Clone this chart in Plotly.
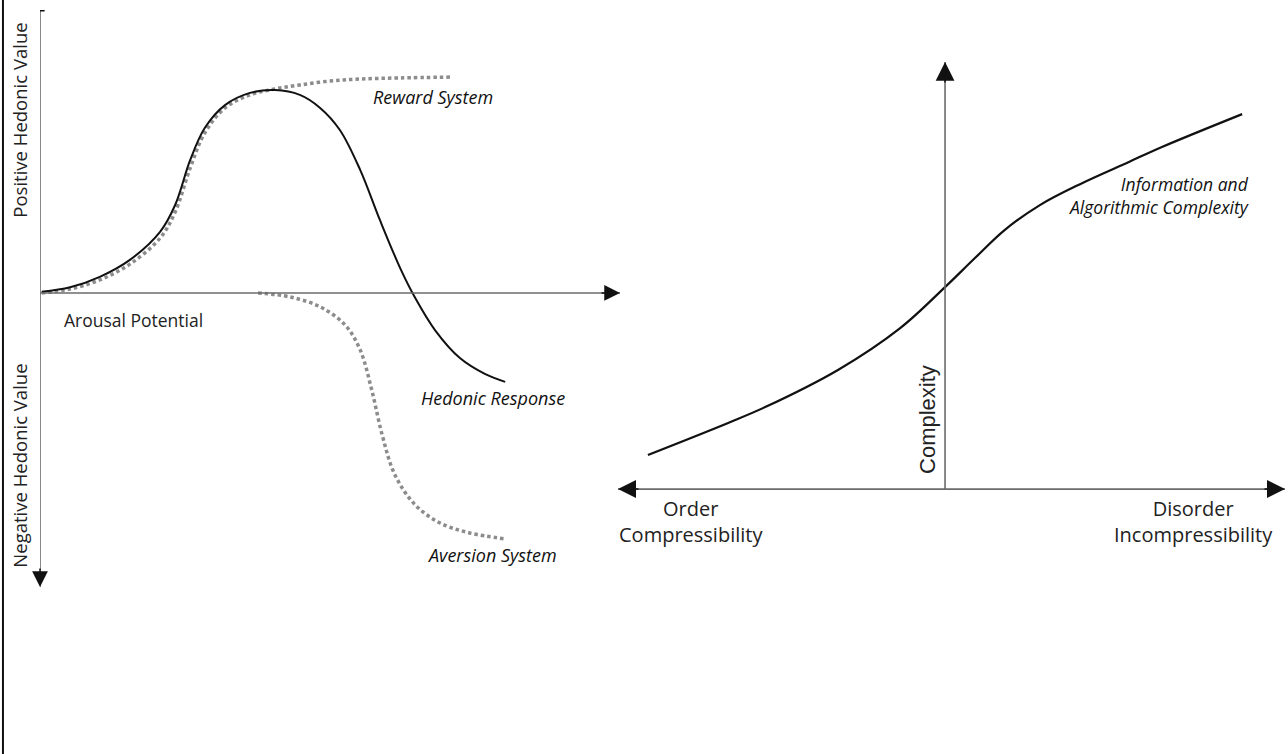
import plotly.graph_objects as go

# left panel: hedonic value vs arousal potential (arbitrary units)
hedonic_x = [0.03, 0.52, 1.03, 1.55, 2.07, 2.33, 2.59, 2.84, 3.19, 3.62, 4.05, 4.48, 4.83,
             5.17, 5.52, 5.86, 6.21, 6.47, 6.81, 7.24, 7.67, 8.02]
hedonic_y = [0.004, 0.02, 0.057, 0.117, 0.216, 0.311, 0.47, 0.583, 0.664, 0.707, 0.717, 0.70,
             0.654, 0.576, 0.435, 0.258, 0.088, -0.018, -0.131, -0.23, -0.286, -0.314]

reward_x = [0.03, 0.52, 1.03, 1.55, 2.07, 2.33, 2.59, 2.84, 3.19, 3.62, 4.05, 4.48, 5.0,
            5.52, 6.21, 7.10]
reward_y = [0.0, 0.014, 0.046, 0.102, 0.194, 0.286, 0.442, 0.565, 0.654, 0.700, 0.721, 0.735,
            0.749, 0.756, 0.760, 0.763]

aversion_x = [3.76, 4.31, 4.83, 5.26, 5.52, 5.72, 5.90, 6.12, 6.47, 6.90, 7.41, 8.02]
aversion_y = [0.0, -0.014, -0.049, -0.113, -0.201, -0.343, -0.502, -0.643, -0.749, -0.813,
              -0.848, -0.869]

# right panel: complexity from order (left) to disorder (right)
order_x = [-0.874, -0.638, -0.529, -0.315, -0.132, 0.0, 0.088, 0.176, 0.279, 0.397, 0.541,
           0.638, 0.874]
complexity_y = [0.080, 0.155, 0.192, 0.279, 0.377, 0.473, 0.541, 0.607, 0.665, 0.714, 0.766,
                0.801, 0.878]

INK = "#111111"
TEXT = "#222222"
AXIS = "#6b6b6b"
DOTS = "#8c8c8c"
SANS = "Open Sans, Lato, sans-serif"
HAND = "Open Sans, Lato, sans-serif"

fig = go.Figure()

fig.add_trace(go.Scatter(x=reward_x, y=reward_y, mode="lines", xaxis="x", yaxis="y",
                         line=dict(color=DOTS, width=3.5, dash="3.5px,3px", shape="spline")))
fig.add_trace(go.Scatter(x=aversion_x, y=aversion_y, mode="lines", xaxis="x", yaxis="y",
                         line=dict(color=DOTS, width=3.5, dash="3.5px,3px", shape="spline")))
fig.add_trace(go.Scatter(x=hedonic_x, y=hedonic_y, mode="lines", xaxis="x", yaxis="y",
                         line=dict(color=INK, width=2, shape="spline")))
fig.add_trace(go.Scatter(x=order_x, y=complexity_y, mode="lines", xaxis="x2", yaxis="y2",
                         line=dict(color=INK, width=2.2, shape="spline")))

shapes = [
    # frame edge on the left
    dict(type="line", xref="paper", yref="paper", x0=0.0023, x1=0.0023, y0=0, y1=1,
         line=dict(color=INK, width=2)),
    # left axes
    dict(type="line", xref="x", yref="y", x0=0, x1=10, y0=0, y1=0, line=dict(color=AXIS, width=1.6)),
    dict(type="line", xref="x", yref="y", x0=0, x1=0, y0=1, y1=-1.039, line=dict(color=AXIS, width=1.6)),
    dict(type="line", xref="x", yref="y", x0=-0.08, x1=0.08, y0=1, y1=1, line=dict(color=INK, width=3)),
    # right axes
    dict(type="line", xref="x2", yref="y2", x0=-0.962, x1=1, y0=0, y1=0, line=dict(color=AXIS, width=1.6)),
    dict(type="line", xref="x2", yref="y2", x0=0, x1=0, y0=0, y1=1, line=dict(color=AXIS, width=1.6)),
]


def head(xr, yr, x, y, ax, ay, size):
    return dict(xref=xr, yref=yr, x=x, y=y, ax=ax, ay=ay, text="", showarrow=True,
                arrowhead=2, arrowwidth=1.5, arrowsize=size, arrowcolor=INK, standoff=0)


annotations = [
    head("x", "y", 10, 0, -20, 0, 2.1),
    head("x", "y", 0, -1.039, 0, -20, 2.1),
    head("x2", "y2", -0.962, 0, 22, 0, 2.4),
    head("x2", "y2", 1, 0, -22, 0, 2.4),
    head("x2", "y2", 0, 1, 0, 22, 2.5),
]


def label(text, xr, yr, x, y, size=17, xanchor="center", angle=0, font=SANS, color=TEXT,
          weight="normal", align="center"):
    return dict(xref=xr, yref=yr, x=x, y=y, text=text, showarrow=False, xanchor=xanchor,
                yanchor="middle", textangle=angle, align=align,
                font=dict(family=font, size=size, color=color, weight=weight))


annotations += [
    label("Arousal Potential", "x", "y", 0.38, -0.095, size=17.5, xanchor="left"),
    label("Positive Hedonic Value", "paper", "paper", 0.0145, 1 - 120 / 754, size=18.5, angle=-90),
    label("Negative Hedonic Value", "paper", "paper", 0.0145, 1 - 466 / 754, size=18.5, angle=-90),
    label("<i>Reward System</i>", "x", "y", 6.78, 0.693, size=18, font=HAND, color=INK, weight=500),
    label("<i>Hedonic Response</i>", "x", "y", 7.81, -0.371, size=18, font=HAND, color=INK, weight=500),
    label("<i>Aversion System</i>", "x", "y", 7.79, -0.926, size=18, font=HAND, color=INK, weight=500),
    label("Order<br>Compressibility", "x2", "y2", -0.748, -0.076, size=20),
    label("Disorder<br>Incompressibility", "x2", "y2", 0.73, -0.076, size=20),
    label("<i>Information and<br>Algorithmic Complexity</i>", "x2", "y2", 0.9, 0.687, size=17.5,
          xanchor="right", align="right", font=HAND, color=INK, weight=500),
    label("Complexity", "x2", "y2", -0.05, 0.162, size=22, angle=-90,
          font="Liberation Sans, Arial, sans-serif"),
]

hidden = dict(visible=False, showgrid=False, zeroline=False, fixedrange=True)

fig.update_layout(
    width=1288,
    height=754,
    margin=dict(l=0, r=0, t=0, b=0),
    paper_bgcolor="white",
    plot_bgcolor="rgba(0,0,0,0)",
    showlegend=False,
    shapes=shapes,
    annotations=annotations,
    xaxis=dict(domain=[40 / 1288, 620 / 1288], range=[0, 10], **hidden),
    yaxis=dict(domain=[1 - 587 / 754, 1 - 10 / 754], range=[-1.039, 1], **hidden),
    xaxis2=dict(domain=[618 / 1288, 1285 / 1288], range=[-0.962, 1], anchor="y2", **hidden),
    # extra room below the arrow so the end labels stay inside the range
    yaxis2=dict(domain=[1 - 560 / 754, 1 - 62 / 754], range=[-0.166, 1], anchor="x2", **hidden),
)

fig.write_html("out.html", config={"displayModeBar": False},
               post_script="document.body.style.margin = '0';")
